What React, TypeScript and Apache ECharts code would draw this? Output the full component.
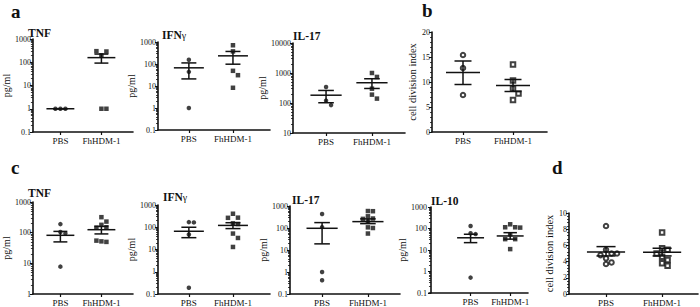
import React, { useEffect, useRef } from 'react';
import * as echarts from 'echarts';

const groups = ['PBS', 'FhHDM-1'];

// ---- panel a ----
const aTnfPbs = [1, 1, 1];
const aTnfFh = [1, 1, 200, 290, 300];
const aTnfMean = [1, 158];
const aTnfLo = [1, 92];
const aTnfHi = [1, 225];

const aIfnPbs = [155, 44, 1];
const aIfnFh = [710, 375, 49, 31, 8.3];
const aIfnMean = [67, 235];
const aIfnLo = [21, 98];
const aIfnHi = [112, 372];

const aIl17Pbs = [340, 120, 85];
const aIl17Fh = [1000, 740, 300, 190, 140];
const aIl17Mean = [182, 474];
const aIl17Lo = [102, 305];
const aIl17Hi = [262, 643];

// ---- panel b ----
const bPbs = [15.4, 12.8, 7.4];
const bFh = [13.5, 10.3, 8.7, 7.7, 6.4];
const bMean = [11.9, 9.3];
const bLo = [9.5, 8.1];
const bHi = [14.2, 10.5];

// ---- panel c ----
const cTnfPbs = [190, 105, 95, 7.8];
const cTnfFh = [320, 230, 180, 150, 145, 52, 50, 55];
const cTnfMean = [82, 125];
const cTnfLo = [50, 91];
const cTnfHi = [110, 160];

const cIfnPbs = [170, 165, 47, 0.19];
const cIfnFh = [405, 270, 265, 150, 140, 52, 33, 13];
const cIfnMean = [66, 121];
const cIfnLo = [34, 87];
const cIfnHi = [100, 160];

const cIl17Pbs = [435, 110, 1, 0.42];
const cIl17Fh = [590, 580, 340, 270, 260, 200, 107, 100, 56];
const cIl17Mean = [97, 195];
const cIl17Lo = [19, 158];
const cIl17Hi = [176, 260];

const cIl10Pbs = [130, 60, 55, 0.52];
const cIl10Fh = [157, 114, 114, 110, 54, 32, 32, 11];
const cIl10Mean = [37, 45];
const cIl10Lo = [22, 32];
const cIl10Hi = [54, 64];

// ---- panel d ----
const dPbs = [8.4, 5.45, 5.0, 4.8, 5.0, 4.4, 3.9, 3.7];
const dFh = [7.6, 5.65, 5.45, 5.0, 4.6, 4.2, 3.8, 3.5];
const dMean = [5.2, 5.15];
const dLo = [4.7, 4.7];
const dHi = [5.85, 5.65];

const FONT = 'Liberation Serif, Times New Roman, serif';
const INK = '#111111';

type Panel = {
  title: string;
  pbs: number[]; fh: number[]; mean: number[]; lo: number[]; hi: number[];
  log: boolean; yMin: number; yMax: number; yInterval?: number;
  left: number; top: number; width: number; height: number;
  xMin: number; xMax: number;
  yName: string; nameGap: number; open: boolean;
  titleX: number; titleY: number;
};

const panels: Panel[] = [
  { title: 'TNF', pbs: aTnfPbs, fh: aTnfFh, mean: aTnfMean, lo: aTnfLo, hi: aTnfHi, log: true, yMin: 0.1, yMax: 1000,
    left: 28, top: 39, width: 105, height: 93, xMin: 0.33, xMax: 2.77, yName: 'pg/ml', nameGap: 13, open: false, titleX: 28, titleY: 33 },
  { title: 'IFN', pbs: aIfnPbs, fh: aIfnFh, mean: aIfnMean, lo: aIfnLo, hi: aIfnHi, log: true, yMin: 0.1, yMax: 1000,
    left: 158, top: 42, width: 112, height: 88, xMin: 0.3, xMax: 2.84, yName: 'pg/ml', nameGap: 9, open: false, titleX: 162, titleY: 35 },
  { title: 'IL-17', pbs: aIl17Pbs, fh: aIl17Fh, mean: aIl17Mean, lo: aIl17Lo, hi: aIl17Hi, log: true, yMin: 10, yMax: 10000,
    left: 293, top: 43, width: 112, height: 90, xMin: 0.28, xMax: 2.72, yName: 'pg/ml', nameGap: 13, open: false, titleX: 293, titleY: 36 },
  { title: '', pbs: bPbs, fh: bFh, mean: bMean, lo: bLo, hi: bHi, log: false, yMin: 0, yMax: 20, yInterval: 5,
    left: 432, top: 32, width: 115, height: 100, xMin: 0.38, xMax: 2.68, yName: 'cell division index', nameGap: 9, open: true, titleX: 0, titleY: 0 },
  { title: 'TNF', pbs: cTnfPbs, fh: cTnfFh, mean: cTnfMean, lo: cTnfLo, hi: cTnfHi, log: true, yMin: 1, yMax: 1000,
    left: 28, top: 202, width: 105, height: 93, xMin: 0.33, xMax: 2.77, yName: 'pg/ml', nameGap: 13, open: false, titleX: 28, titleY: 193 },
  { title: 'IFN', pbs: cIfnPbs, fh: cIfnFh, mean: cIfnMean, lo: cIfnLo, hi: cIfnHi, log: true, yMin: 0.1, yMax: 1000,
    left: 158, top: 205, width: 112, height: 89, xMin: 0.3, xMax: 2.84, yName: 'pg/ml', nameGap: 9, open: false, titleX: 163, titleY: 197 },
  { title: 'IL-17', pbs: cIl17Pbs, fh: cIl17Fh, mean: cIl17Mean, lo: cIl17Lo, hi: cIl17Hi, log: true, yMin: 0.1, yMax: 1000,
    left: 290, top: 206, width: 110, height: 88, xMin: 0.3, xMax: 2.7, yName: 'pg/ml', nameGap: 6, open: false, titleX: 292, titleY: 200 },
  { title: 'IL-10', pbs: cIl10Pbs, fh: cIl10Fh, mean: cIl10Mean, lo: cIl10Lo, hi: cIl10Hi, log: true, yMin: 0.1, yMax: 1000,
    left: 429, top: 207, width: 99, height: 86, xMin: -0.05, xMax: 2.45, yName: 'pg/ml', nameGap: 7, open: false, titleX: 431, titleY: 201 },
  { title: '', pbs: dPbs, fh: dFh, mean: dMean, lo: dLo, hi: dHi, log: false, yMin: 0, yMax: 10, yInterval: 2,
    left: 569, top: 213, width: 129, height: 81, xMin: 0.34, xMax: 2.64, yName: 'cell division index', nameGap: 9, open: true, titleX: 0, titleY: 0 },
];

const panelLetters = [
  { text: 'a', x: 11, y: 11 },
  { text: 'b', x: 422, y: 10 },
  { text: 'c', x: 11, y: 167 },
  { text: 'd', x: 552, y: 167 },
];

function fmtLog(v: number) {
  if (v < 1) return v.toFixed(1);
  return String(Math.round(v));
}

function buildOption(jit: number[][][][] | null) {
  const grid: any[] = [];
  const xAxis: any[] = [];
  const yAxis: any[] = [];
  const series: any[] = [];
  const graphic: any[] = [];

  panels.forEach((p, i) => {
    grid.push({ left: p.left, top: p.top, width: p.width, height: p.height, containLabel: false });
    xAxis.push({
      type: 'value', gridIndex: i, min: p.xMin, max: p.xMax,
      axisLine: { show: true, onZero: false, lineStyle: { color: INK, width: 1.6 } },
      axisTick: { show: true, customValues: [1, 2], length: 3, lineStyle: { color: INK, width: 1.2 } },
      minorTick: { show: false },
      axisLabel: {
        show: true, customValues: [1, 2], margin: 4, color: INK, fontSize: 9, fontFamily: FONT,
        formatter: (v: number) => groups[Math.round(v) - 1] ?? '',
      },
      splitLine: { show: false },
      minorSplitLine: { show: false },
    });
    const y: any = {
      type: p.log ? 'log' : 'value', logBase: 10, gridIndex: i, min: p.yMin, max: p.yMax,
      name: p.yName, nameLocation: 'middle', nameGap: p.nameGap,
      nameTextStyle: { color: INK, fontSize: p.log ? 10 : 10.5, fontFamily: FONT },
      axisLine: { show: true, lineStyle: { color: INK, width: 1.6 } },
      axisTick: { show: true, length: 3, lineStyle: { color: INK, width: 1 } },
      minorTick: { show: true, splitNumber: p.log ? 9 : 5, length: 2, lineStyle: { color: INK, width: 0.8 } },
      axisLabel: {
        show: true, margin: 2, color: INK, fontSize: 8, fontFamily: FONT,
        formatter: p.log ? fmtLog : (v: number) => String(v),
      },
      splitLine: { show: false },
      minorSplitLine: { show: false },
      splitArea: { show: false },
    };
    if (p.yInterval) y.interval = p.yInterval;
    yAxis.push(y);

    const pbsData = jit ? jit[i][0] : p.pbs.map((v) => [1, v]);
    const fhData = jit ? jit[i][1] : p.fh.map((v) => [2, v]);
    series.push({
      type: 'scatter', xAxisIndex: i, yAxisIndex: i, data: pbsData,
      symbol: p.open ? 'emptyCircle' : 'circle', symbolSize: p.open ? 4.5 : 4.5,
      itemStyle: { color: INK, borderColor: INK, borderWidth: p.open ? 1.3 : 0 },
      z: 2, silent: true,
    });
    series.push({
      type: 'scatter', xAxisIndex: i, yAxisIndex: i, data: fhData,
      symbol: p.open ? 'emptyRect' : 'rect', symbolSize: p.open ? 4.5 : 4.5,
      itemStyle: { color: INK, borderColor: INK, borderWidth: p.open ? 1.3 : 0 },
      z: 2, silent: true,
    });
    series.push({
      type: 'custom', xAxisIndex: i, yAxisIndex: i, z: 3, silent: true, clip: false,
      data: [0, 1].map((k) => [k + 1, p.mean[k], p.lo[k], p.hi[k]]),
      encode: { x: 0, y: 1 },
      renderItem: (params: any, api: any) => {
        const x = api.value(0);
        const m = api.value(1);
        const pm = api.coord([x, m]);
        const pl = api.coord([x, api.value(2)]);
        const ph = api.coord([x, api.value(3)]);
        const w1 = api.coord([x + 0.34, m])[0] - pm[0];
        const w2 = api.coord([x + 0.17, m])[0] - pm[0];
        const style = { stroke: INK, lineWidth: 1.5 };
        return {
          type: 'group',
          children: [
            { type: 'line', shape: { x1: pm[0] - w1, y1: pm[1], x2: pm[0] + w1, y2: pm[1] }, style },
            { type: 'line', shape: { x1: pm[0], y1: ph[1], x2: pm[0], y2: pl[1] }, style },
            { type: 'line', shape: { x1: pm[0] - w2, y1: ph[1], x2: pm[0] + w2, y2: ph[1] }, style },
            { type: 'line', shape: { x1: pm[0] - w2, y1: pl[1], x2: pm[0] + w2, y2: pl[1] }, style },
          ],
        };
      },
    });

    if (p.title) {
      const isIfn = p.title === 'IFN';
      graphic.push({
        type: 'text', x: p.titleX, y: p.titleY, silent: true,
        style: {
          text: isIfn ? '{b|IFN}{g|γ}' : '{b|' + p.title + '}',
          verticalAlign: 'middle',
          rich: {
            b: { fontFamily: FONT, fontWeight: 'bold', fontSize: 11.5, fill: INK },
            g: { fontFamily: FONT, fontWeight: 'normal', fontSize: 10, fill: INK },
          },
        },
      });
    }
  });

  panelLetters.forEach((l) => {
    graphic.push({
      type: 'text', x: l.x, y: l.y, silent: true,
      style: { text: l.text, fontFamily: FONT, fontWeight: 'bold', fontSize: 19, fill: INK, verticalAlign: 'middle' },
    });
  });

  return { animation: false, backgroundColor: '#fff', grid, xAxis, yAxis, series, graphic };
}

function swarm(chart: any, gi: number, xc: number, vals: number[], step: number) {
  const placed: number[][] = [];
  return vals.map((v) => {
    const pt = chart.convertToPixel({ gridIndex: gi }, [xc, v]);
    const px = pt[0];
    const py = pt[1];
    let off = 0;
    for (let k = 0; k < 40; k++) {
      const cand = k === 0 ? 0 : (k % 2 === 1 ? 1 : -1) * Math.ceil(k / 2) * step;
      if (placed.every((q) => Math.hypot(px + cand - q[0], py - q[1]) >= step * 0.99)) {
        off = cand;
        break;
      }
    }
    placed.push([px + off, py]);
    const back = chart.convertFromPixel({ gridIndex: gi }, [px + off, py]);
    return [back[0], v];
  });
}

export default function App() {
  const ref = useRef<HTMLDivElement>(null);
  useEffect(() => {
    if (!ref.current) return;
    const chart = echarts.init(ref.current, null, { renderer: 'svg' });
    chart.setOption(buildOption(null));
    const jit = panels.map((p, i) => [
      swarm(chart, i, 1, p.pbs, p.open ? 5.5 : 5),
      swarm(chart, i, 2, p.fh, p.open ? 5.5 : 5),
    ]);
    chart.setOption(buildOption(jit), true);
    return () => chart.dispose();
  }, []);
  return (
    <div
      ref={ref}
      style={{ position: 'fixed', left: 0, top: 0, width: 700, height: 307, background: '#fff' }}
    />
  );
}
